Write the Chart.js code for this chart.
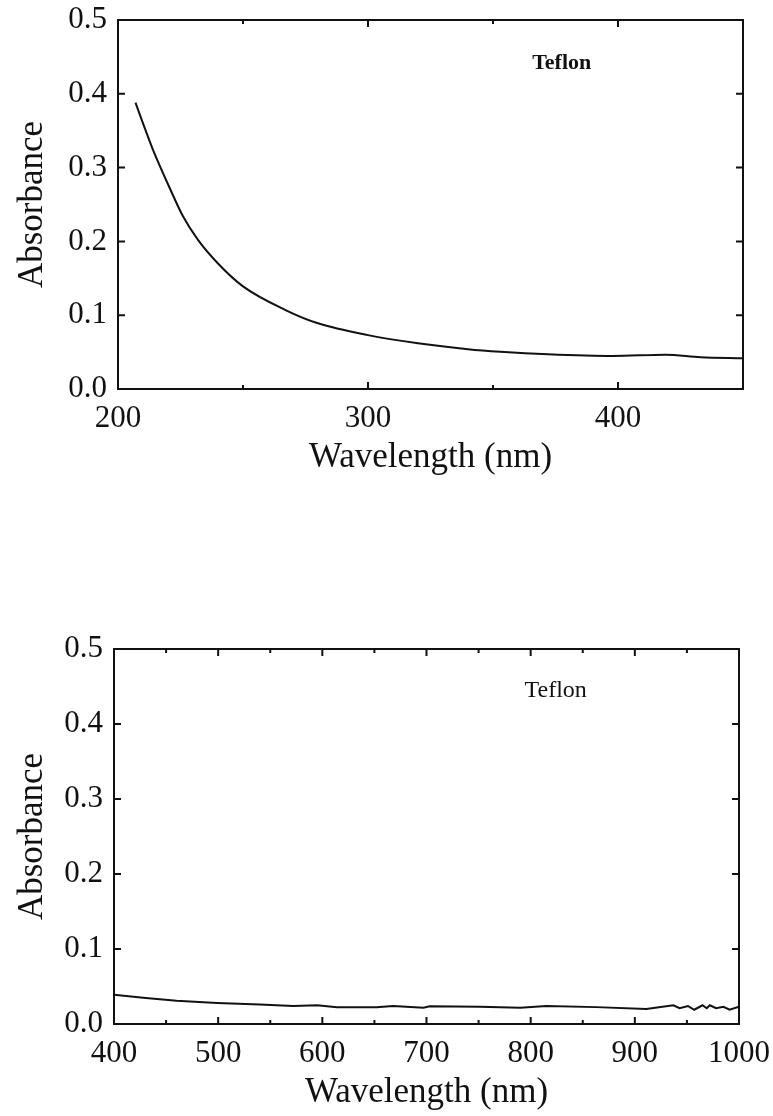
<!DOCTYPE html>
<html>
<head>
<meta charset="utf-8">
<title>Teflon absorbance</title>
<script src="https://cdn.jsdelivr.net/npm/chart.js@4.4.1/dist/chart.umd.min.js"></script>
<style>
    body { margin: 0; background: #fff; overflow: hidden; }
    .plot-box { position: absolute; left: 0; }
</style>
</head>
<body>
<div class="plot-box" style="top:-20px;"><canvas id="uvChart" width="773" height="520"></canvas></div>
<div class="plot-box" style="top:560px;"><canvas id="visChart" width="781" height="556"></canvas></div>
<script>
// UV range (top panel)
const uvWavelength = [207, 210, 214, 221, 226, 232, 240, 250, 267, 280, 300, 320, 340, 353, 372, 398, 419, 433, 450];
const uvAbsorbance = [0.388, 0.360, 0.324, 0.270, 0.234, 0.202, 0.170, 0.139, 0.107, 0.089, 0.073, 0.062, 0.054, 0.0505, 0.047, 0.0447, 0.0465, 0.043, 0.0416];

// visible / near IR range (bottom panel)
const visWavelength = [400, 428, 460, 499, 540, 572, 595, 614, 652, 668, 697, 703, 751, 790, 815, 863, 911, 937, 943, 951, 957, 965, 969, 972, 978, 985, 991, 1000];
const visAbsorbance = [0.039, 0.035, 0.031, 0.028, 0.026, 0.024, 0.025, 0.0225, 0.0225, 0.024, 0.0218, 0.0235, 0.023, 0.0216, 0.024, 0.0225, 0.020, 0.025, 0.021, 0.024, 0.019, 0.025, 0.021, 0.025, 0.021, 0.023, 0.019, 0.023];

const uvTicks = [200, 300, 400];
const visTicks = [400, 500, 600, 700, 800, 900, 1000];
const absTicks = [0, 0.1, 0.2, 0.3, 0.4, 0.5];
const sampleName = 'Teflon';

const SERIF = '"Liberation Serif", "Times New Roman", serif';
const INK = '#111';

// box frame, inward ticks on all four sides, sample label
const frameTicks = {
    id: 'frameTicks',
    afterDraw(chart, args, opts) {
        const { ctx, chartArea: a, scales: { x, y } } = chart;
        ctx.save();
        ctx.strokeStyle = INK;
        ctx.lineWidth = 2;
        ctx.strokeRect(a.left, a.top, a.right - a.left, a.bottom - a.top);

        ctx.beginPath();
        const major = x.ticks.map(t => t.value);
        major.forEach(v => {
            const px = x.getPixelForValue(v);
            ctx.moveTo(px, a.bottom); ctx.lineTo(px, a.bottom - 7);
            ctx.moveTo(px, a.top); ctx.lineTo(px, a.top + 7);
        });
        for (let v = x.min + opts.minorStep; v < x.max; v += opts.minorStep) {
            if (major.includes(v)) continue;
            const px = x.getPixelForValue(v);
            ctx.moveTo(px, a.bottom); ctx.lineTo(px, a.bottom - 4);
            ctx.moveTo(px, a.top); ctx.lineTo(px, a.top + 4);
        }
        y.ticks.forEach(t => {
            const py = y.getPixelForValue(t.value);
            ctx.moveTo(a.left, py); ctx.lineTo(a.left + 7, py);
            ctx.moveTo(a.right, py); ctx.lineTo(a.right - 7, py);
        });
        ctx.stroke();

        ctx.fillStyle = INK;
        ctx.font = opts.labelFont;
        ctx.textAlign = 'center';
        ctx.textBaseline = 'middle';
        ctx.fillText(sampleName, x.getPixelForValue(opts.labelAt[0]), y.getPixelForValue(opts.labelAt[1]));
        ctx.restore();
    }
};

function makeChart(id, xs, ys, xTicks, cfg) {
    return new Chart(document.getElementById(id), {
        type: 'line',
        data: {
            datasets: [{
                data: xs.map((v, i) => ({ x: v, y: ys[i] })),
                borderColor: INK,
                borderWidth: 2,
                pointRadius: 0,
                cubicInterpolationMode: cfg.smooth ? 'monotone' : 'default',
                tension: 0,
                fill: false
            }]
        },
        options: {
            responsive: false,
            animation: false,
            devicePixelRatio: 1,
            layout: { padding: cfg.padding },
            plugins: {
                legend: { display: false },
                tooltip: { enabled: false },
                frameTicks: { minorStep: 50, labelAt: cfg.labelAt, labelFont: cfg.labelFont }
            },
            scales: {
                x: {
                    type: 'linear',
                    min: cfg.xMin,
                    max: cfg.xMax,
                    afterBuildTicks: s => { s.ticks = xTicks.map(v => ({ value: v })); },
                    afterFit: s => { s.height = 90; },
                    grid: { display: false, drawTicks: false },
                    border: { display: false },
                    ticks: { color: INK, padding: 11, maxRotation: 0, font: { family: SERIF, size: 31 }, callback: v => String(v) },
                    title: {
                        display: true,
                        text: 'Wavelength (nm)',
                        color: INK,
                        padding: { top: 0, bottom: 0 },
                        font: { family: SERIF, size: 35 }
                    }
                },
                y: {
                    min: 0,
                    max: 0.5,
                    afterBuildTicks: s => { s.ticks = absTicks.map(v => ({ value: v })); },
                    afterFit: s => { s.width = cfg.yWidth; },
                    grid: { display: false, drawTicks: false },
                    border: { display: false },
                    ticks: { color: INK, padding: 11, font: { family: SERIF, size: 31 }, callback: v => v.toFixed(1) },
                    title: {
                        display: true,
                        text: 'Absorbance',
                        color: INK,
                        padding: { top: 12, bottom: 0 },
                        font: { family: SERIF, size: 35 }
                    }
                }
            }
        },
        plugins: [frameTicks]
    });
}

makeChart('uvChart', uvWavelength, uvAbsorbance, uvTicks, {
    xMin: 200, xMax: 450, yWidth: 118, smooth: true,
    padding: { top: 40, right: 30, bottom: 21, left: 0 },
    labelAt: [377.5, 0.441], labelFont: 'bold 22px ' + SERIF
});

makeChart('visChart', visWavelength, visAbsorbance, visTicks, {
    xMin: 400, xMax: 1000, yWidth: 114, smooth: false,
    padding: { top: 89, right: 34, bottom: 2, left: 0 },
    labelAt: [824, 0.445], labelFont: '24px ' + SERIF
});
</script>
</body>
</html>
